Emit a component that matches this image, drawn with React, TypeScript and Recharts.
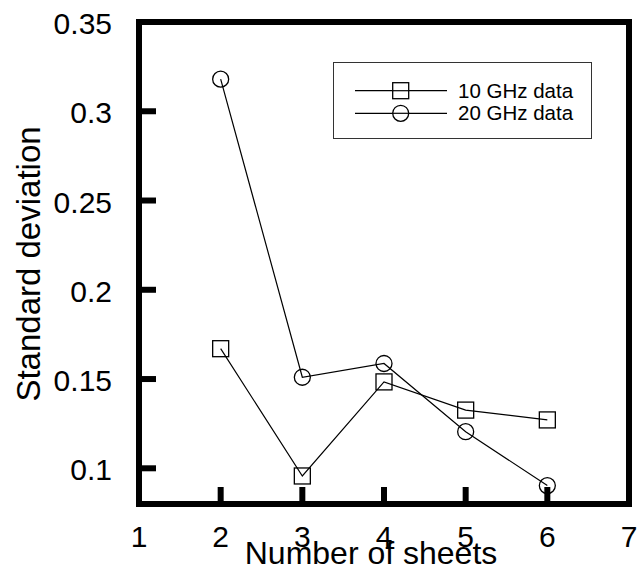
import React from "react";
import {
  LineChart,
  Line,
  XAxis,
  YAxis,
  ReferenceArea,
  Legend,
} from "recharts";

const sheets = [2, 3, 4, 5, 6];
const std10GHz = [0.167, 0.0957, 0.1484, 0.1326, 0.1271];
const std20GHz = [0.318, 0.151, 0.1587, 0.1205, 0.0903];
const xTicks = [1, 2, 3, 4, 5, 6, 7];
const yTicks = [0.1, 0.15, 0.2, 0.25, 0.3, 0.35];
const xDomain: [number, number] = [1, 7];
const yDomain: [number, number] = [0.08, 0.35];

const data = sheets.map((n, i) => ({
  sheets: n,
  ghz10: std10GHz[i],
  ghz20: std20GHz[i],
}));

const FONT = "'Liberation Sans', Arial, Helvetica, sans-serif";
const TICK_LEN = 17;
const TICK_W = 6;

// square / circle markers, hollow like the original plot
const SquareDot = (props: any) => {
  const { cx, cy, index } = props;
  if (cx == null || cy == null) return null;
  return (
    <rect
      key={`sq-${index}`}
      x={cx - 8}
      y={cy - 8}
      width={16}
      height={16}
      fill="none"
      stroke="#000"
      strokeWidth={1.3}
    />
  );
};

const CircleDot = (props: any) => {
  const { cx, cy, index } = props;
  if (cx == null || cy == null) return null;
  return (
    <circle
      key={`ci-${index}`}
      cx={cx}
      cy={cy}
      r={8}
      fill="none"
      stroke="#000"
      strokeWidth={1.3}
    />
  );
};

// inward ticks, labels only on bottom/left
const BottomTick = (props: any) => {
  const { x, y, payload } = props;
  const v = payload.value;
  const edge = v === xDomain[0] || v === xDomain[1];
  return (
    <g>
      {!edge && (
        <line x1={x} y1={y} x2={x} y2={y - TICK_LEN} stroke="#000" strokeWidth={TICK_W} />
      )}
      <text x={x} y={y + 43} textAnchor="middle" fontSize={30} fontFamily={FONT} fill="#000">
        {v}
      </text>
    </g>
  );
};

const TopTick = (props: any) => {
  const { x, y, payload } = props;
  const v = payload.value;
  if (v === xDomain[0] || v === xDomain[1]) return <g />;
  return <line x1={x} y1={y} x2={x} y2={y + TICK_LEN} stroke="#000" strokeWidth={TICK_W} />;
};

const LeftTick = (props: any) => {
  const { x, y, payload } = props;
  const v = payload.value;
  const edge = v === yDomain[0] || v === yDomain[1];
  return (
    <g>
      {!edge && (
        <line x1={x} y1={y} x2={x + TICK_LEN} y2={y} stroke="#000" strokeWidth={TICK_W} />
      )}
      <text x={x - 27} y={y + 12} textAnchor="end" fontSize={30} fontFamily={FONT} fill="#000">
        {v}
      </text>
    </g>
  );
};

const RightTick = (props: any) => {
  const { x, y, payload } = props;
  const v = payload.value;
  if (v === yDomain[0] || v === yDomain[1]) return <g />;
  return <line x1={x} y1={y} x2={x - TICK_LEN} y2={y} stroke="#000" strokeWidth={TICK_W} />;
};

const legendItems = [
  { label: "10 GHz data", marker: "square" },
  { label: "20 GHz data", marker: "circle" },
];

const renderLegend = () => (
  <svg width={259} height={77} style={{ display: "block" }}>
    <rect x={0.5} y={0.5} width={258} height={76} fill="#fff" stroke="#333" strokeWidth={1} />
    {legendItems.map((item, i) => {
      const cy = 28.7 + i * 22.6;
      return (
        <g key={item.label}>
          <line x1={22} y1={cy} x2={114} y2={cy} stroke="#000" strokeWidth={1.2} />
          {item.marker === "square" ? (
            <rect x={59.7} y={cy - 8} width={16} height={16} fill="#fff" stroke="#000" strokeWidth={1.3} />
          ) : (
            <circle cx={67.7} cy={cy} r={8} fill="#fff" stroke="#000" strokeWidth={1.3} />
          )}
          <line x1={59.7} y1={cy} x2={75.7} y2={cy} stroke="#000" strokeWidth={1.2} />
          <text x={125} y={cy + 7} fontSize={20.5} fontFamily={FONT} fill="#000">
            {item.label}
          </text>
        </g>
      );
    })}
  </svg>
);

export default function App() {
  return (
    <div style={{ position: "absolute", left: 0, top: 0, width: 639, height: 581, background: "#fff" }}>
      <LineChart
        width={639}
        height={581}
        data={data}
        margin={{ top: 22, right: 10, left: 0, bottom: 0 }}
      >
        <XAxis
          dataKey="sheets"
          type="number"
          domain={xDomain}
          ticks={xTicks}
          height={77}
          axisLine={false}
          tickLine={false}
          tickSize={0}
          tickMargin={0}
          tick={<BottomTick />}
          interval={0}
          allowDataOverflow
        />
        <XAxis
          xAxisId="top"
          orientation="top"
          dataKey="sheets"
          type="number"
          domain={xDomain}
          ticks={xTicks}
          height={0}
          axisLine={false}
          tickLine={false}
          tickSize={0}
          tickMargin={0}
          tick={<TopTick />}
          interval={0}
          allowDataOverflow
        />
        <YAxis
          type="number"
          domain={yDomain}
          ticks={yTicks}
          width={139}
          axisLine={false}
          tickLine={false}
          tickSize={0}
          tickMargin={0}
          tick={<LeftTick />}
          interval={0}
          allowDataOverflow
          label={{
            content: () => (
              <text
                x={40}
                y={264}
                transform="rotate(-90, 40, 264)"
                textAnchor="middle"
                fontSize={33}
                fontFamily={FONT}
                fill="#000"
              >
                Standard deviation
              </text>
            ),
          }}
        />
        <YAxis
          yAxisId="right"
          orientation="right"
          type="number"
          domain={yDomain}
          ticks={yTicks}
          width={0}
          axisLine={false}
          tickLine={false}
          tickSize={0}
          tickMargin={0}
          tick={<RightTick />}
          interval={0}
          allowDataOverflow
        />
        <ReferenceArea
          x1={xDomain[0]}
          x2={xDomain[1]}
          y1={yDomain[0]}
          y2={yDomain[1]}
          fill="none"
          fillOpacity={0}
          stroke="#000"
          strokeWidth={6}
          ifOverflow="visible"
        />
        <Line
          dataKey="ghz10"
          stroke="#000"
          strokeWidth={1.2}
          dot={<SquareDot />}
          activeDot={false}
          isAnimationActive={false}
        />
        <Line
          dataKey="ghz20"
          stroke="#000"
          strokeWidth={1.2}
          dot={<CircleDot />}
          activeDot={false}
          isAnimationActive={false}
        />
        <Legend
          layout="vertical"
          align="center"
          verticalAlign="middle"
          content={renderLegend}
          wrapperStyle={{ position: "absolute", left: 333, top: 62, width: 259, height: 77 }}
        />
        <text x={371} y={564} textAnchor="middle" fontSize={32} fontFamily={FONT} fill="#000">
          Number of sheets
        </text>
      </LineChart>
    </div>
  );
}
